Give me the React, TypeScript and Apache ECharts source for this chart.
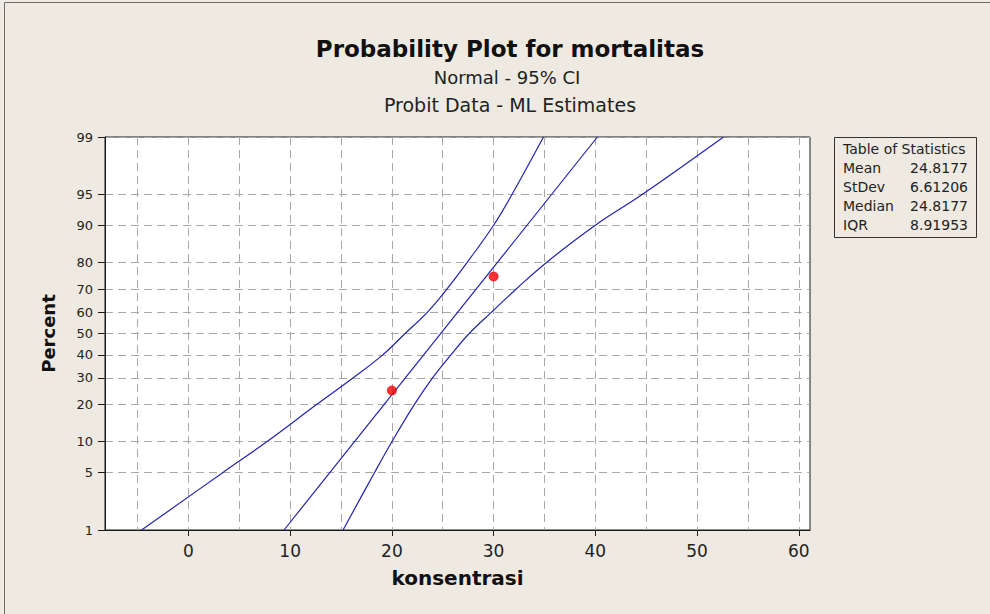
import React, { useEffect, useRef } from "react";
import * as echarts from "echarts";

// ---- data ----
const percentTicks = [1, 5, 10, 20, 30, 40, 50, 60, 70, 80, 90, 95, 99];
const xLabelTicks = [0, 10, 20, 30, 40, 50, 60];
const xGridTicks = [-5, 0, 5, 10, 15, 20, 25, 30, 35, 40, 45, 50, 55, 60];
const xMin = -8.2;
const xMax = 61.1;

// [konsentrasi, percent]
const observed: [number, number][] = [
  [20, 25],
  [30, 75],
];
const fitLine: [number, number][] = [
  [9.4, 1],
  [40.2, 99],
];
const lowerBand: [number, number][] = [
  [-4.6, 1], [3.4, 5], [7.7, 10], [12.6, 20], [16.2, 30], [19.1, 40], [21.3, 50],
  [23.5, 60], [25.4, 70], [27.4, 80], [30.0, 90], [31.8, 95], [34.9, 99],
];
const upperBand: [number, number][] = [
  [15.2, 1], [18.3, 5], [20.0, 10], [22.2, 20], [24.0, 30], [25.8, 40], [27.6, 50],
  [29.8, 60], [32.2, 70], [35.2, 80], [40.0, 90], [44.6, 95], [52.6, 99],
];
const statLabels = ["Mean", "StDev", "Median", "IQR"];
const statValues = ["24.8177", "6.61206", "24.8177", "8.91953"];

const titleText = "Probability Plot for mortalitas";
const subtitle1 = "Normal - 95% CI";
const subtitle2 = "Probit Data - ML Estimates";
const xName = "konsentrasi";
const yName = "Percent";
const tableTitle = "Table of Statistics";

// ---- probit (normal quantile) scale transform ----
function probit(p: number): number {
  const a = [-3.969683028665376e1, 2.209460984245205e2, -2.759285104469687e2, 1.38357751867269e2, -3.066479806614716e1, 2.506628277459239];
  const b = [-5.447609879822406e1, 1.615858368580409e2, -1.556989798598866e2, 6.680131188771972e1, -1.328068155288572e1];
  const c = [-7.784894002430293e-3, -3.223964580411365e-1, -2.400758277161838, -2.549732539343734, 4.374664141464968, 2.938163982698783];
  const d = [7.784695709041462e-3, 3.224671290700398e-1, 2.445134137142996, 3.754408661907416];
  const pl = 0.02425;
  const ph = 1 - pl;
  let q: number, r: number;
  if (p < pl) {
    q = Math.sqrt(-2 * Math.log(p));
    return (((((c[0] * q + c[1]) * q + c[2]) * q + c[3]) * q + c[4]) * q + c[5]) /
      ((((d[0] * q + d[1]) * q + d[2]) * q + d[3]) * q + 1);
  }
  if (p > ph) {
    q = Math.sqrt(-2 * Math.log(1 - p));
    return -(((((c[0] * q + c[1]) * q + c[2]) * q + c[3]) * q + c[4]) * q + c[5]) /
      ((((d[0] * q + d[1]) * q + d[2]) * q + d[3]) * q + 1);
  }
  q = p - 0.5;
  r = q * q;
  return ((((((a[0] * r + a[1]) * r + a[2]) * r + a[3]) * r + a[4]) * r + a[5]) * q) /
    (((((b[0] * r + b[1]) * r + b[2]) * r + b[3]) * r + b[4]) * r + 1);
}

const toZ = (pts: [number, number][]) => pts.map(([x, p]) => [x, probit(p / 100)]);

const FONT = "'DejaVu Sans', Verdana, sans-serif";
const LINE_COLOR = "#2222b0";
const GRID_DASH = [8, 5];

export default function App() {
  const ref = useRef<HTMLDivElement>(null);

  useEffect(() => {
    if (!ref.current) return;
    const chart = echarts.init(ref.current, undefined, { renderer: "svg" });
    const yTicks = percentTicks.map((p) => probit(p / 100));
    const yMin = yTicks[0];
    const yMax = yTicks[yTicks.length - 1];
    const yFmt = (v: number) => {
      let best = percentTicks[0];
      let bd = Infinity;
      percentTicks.forEach((p, i) => {
        const dd = Math.abs(yTicks[i] - v);
        if (dd < bd) { bd = dd; best = p; }
      });
      return String(best);
    };

    const tableX = 834;
    const tableY = 137;
    const rowGap = 19;

    const option: any = {
      animation: false,
      backgroundColor: "#eeeae1",
      title: [
        {
          text: titleText,
          left: 505,
          top: 32,
          textAlign: "center",
          textStyle: { fontFamily: FONT, fontWeight: "bold", fontSize: 23, color: "#111" },
        },
        {
          text: subtitle1,
          left: 502,
          top: 63,
          textAlign: "center",
          textStyle: { fontFamily: FONT, fontWeight: "normal", fontSize: 18, color: "#222" },
        },
        {
          text: subtitle2,
          left: 505,
          top: 90,
          textAlign: "center",
          textStyle: { fontFamily: FONT, fontWeight: "normal", fontSize: 19, color: "#222" },
        },
      ],
      grid: {
        left: 105,
        top: 137,
        width: 705,
        height: 393,
        show: true,
        backgroundColor: "#ffffff",
        borderColor: "#1a1a1a",
        borderWidth: 1,
      },
      xAxis: [
        {
          type: "value",
          min: xMin,
          max: xMax,
          position: "bottom",
          name: xName,
          nameLocation: "middle",
          nameGap: 38,
          nameTextStyle: { fontFamily: FONT, fontWeight: "bold", fontSize: 20, color: "#111" },
          axisLine: { show: true, onZero: false, lineStyle: { color: "#1a1a1a", width: 1 } },
          axisTick: { show: true, customValues: xLabelTicks, length: 6, lineStyle: { color: "#1a1a1a" } },
          axisLabel: {
            customValues: xLabelTicks,
            margin: 12,
            fontFamily: FONT,
            fontSize: 17,
            color: "#222",
          },
          splitLine: { show: false },
        },
        {
          type: "value",
          min: xMin,
          max: xMax,
          position: "bottom",
          axisLine: { show: false, onZero: false },
          axisTick: { show: false, customValues: xGridTicks },
          axisLabel: { show: false, customValues: xGridTicks },
          splitLine: { show: true, lineStyle: { color: "#a8a8a8", type: GRID_DASH, width: 1 } },
        },
      ],
      yAxis: {
        type: "value",
        min: yMin,
        max: yMax,
        name: yName,
        nameLocation: "middle",
        nameGap: 48,
        nameTextStyle: { fontFamily: FONT, fontWeight: "bold", fontSize: 18, color: "#111" },
        axisLine: { show: true, onZero: false, lineStyle: { color: "#1a1a1a", width: 1 } },
        axisTick: { show: true, customValues: yTicks, length: 7, lineStyle: { color: "#1a1a1a" } },
        axisLabel: {
          customValues: yTicks,
          formatter: yFmt,
          margin: 12,
          fontFamily: FONT,
          fontSize: 13,
          color: "#222",
        },
        splitLine: { show: true, lineStyle: { color: "#a8a8a8", type: GRID_DASH, width: 1 } },
      },
      series: [
        {
          type: "line",
          data: toZ(lowerBand),
          xAxisIndex: 0,
          showSymbol: false,
          smooth: 0.4,
          lineStyle: { color: LINE_COLOR, width: 1.2 },
          z: 3,
        },
        {
          type: "line",
          data: toZ(fitLine),
          xAxisIndex: 0,
          showSymbol: false,
          lineStyle: { color: LINE_COLOR, width: 1.2 },
          z: 3,
        },
        {
          type: "line",
          data: toZ(upperBand),
          xAxisIndex: 0,
          showSymbol: false,
          smooth: 0.4,
          lineStyle: { color: LINE_COLOR, width: 1.2 },
          z: 3,
        },
        {
          type: "scatter",
          data: toZ(observed),
          xAxisIndex: 0,
          symbol: "circle",
          symbolSize: 10,
          itemStyle: { color: "#f00000" },
          z: 5,
        },
      ],
      graphic: [
        {
          type: "rect",
          shape: { x: 4.5, y: 2.5, width: 1200, height: 1200 },
          style: { fill: "none", stroke: "#6e6e6e", lineWidth: 1 },
          silent: true,
        },
        {
          type: "rect",
          shape: { x: tableX + 0.5, y: tableY + 0.5, width: 142, height: 100 },
          style: { fill: "none", stroke: "#333", lineWidth: 1 },
          silent: true,
        },
        {
          type: "text",
          x: tableX + 9,
          y: tableY + 12,
          style: {
            text: tableTitle,
            fontFamily: FONT,
            fontSize: 14,
            fill: "#222",
            verticalAlign: "middle",
            align: "left",
          },
        },
        ...statLabels.map((l, i) => ({
          type: "text",
          x: tableX + 9,
          y: tableY + 12 + rowGap * (i + 1),
          style: { text: l, fontFamily: FONT, fontSize: 14, fill: "#222", verticalAlign: "middle", align: "left" },
        })),
        ...statValues.map((v, i) => ({
          type: "text",
          x: tableX + 134,
          y: tableY + 12 + rowGap * (i + 1),
          style: { text: v, fontFamily: FONT, fontSize: 14, fill: "#222", verticalAlign: "middle", align: "right" },
        })),
      ],
    };
    chart.setOption(option);
    return () => chart.dispose();
  }, []);

  return (
    <div
      ref={ref}
      style={{ position: "absolute", left: 0, top: 0, width: 990, height: 614 }}
    />
  );
}
